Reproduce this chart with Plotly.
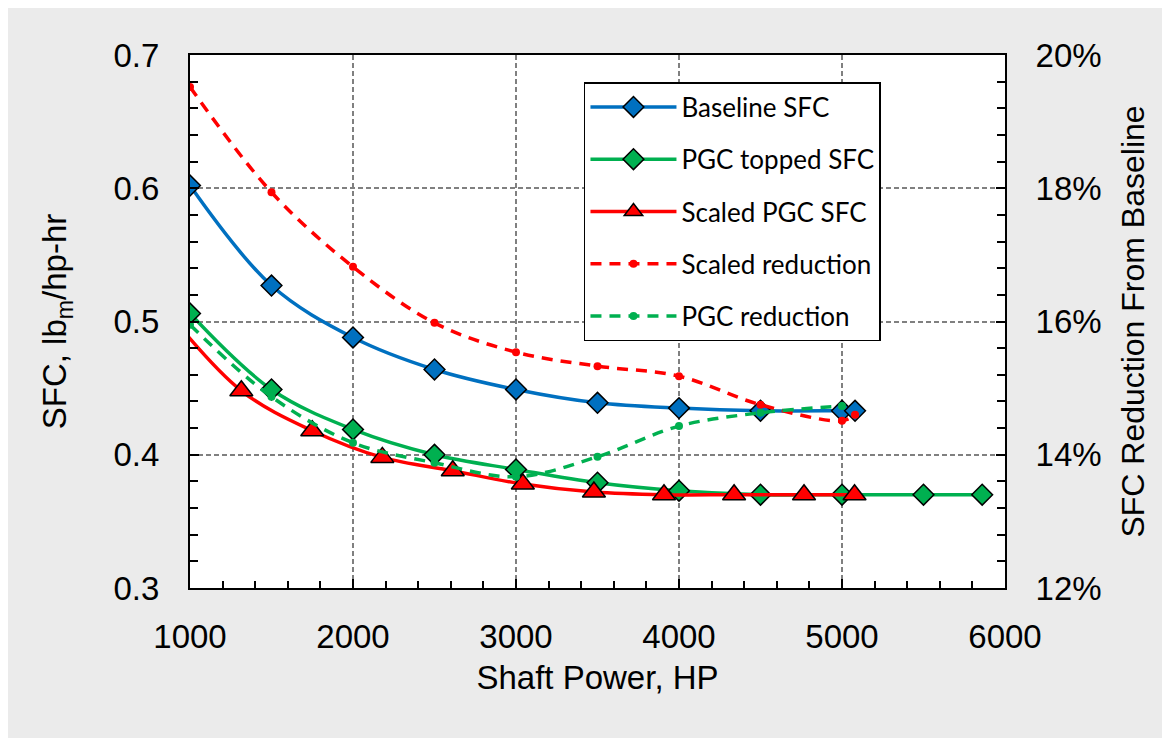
import plotly.graph_objects as go

# ---- data ----
base_power = [1000, 1500, 2000, 2500, 3000, 3500, 4000, 4500, 5000, 5080]
baseline_sfc = [0.602, 0.527, 0.488, 0.464, 0.449, 0.439, 0.435, 0.433, 0.433, 0.433]

pgc_power = [1000, 1500, 2000, 2500, 3000, 3500, 4000, 4500, 5000, 5500, 5860]
pgc_sfc = [0.506, 0.449, 0.419, 0.400, 0.389, 0.379, 0.373, 0.370, 0.370, 0.370, 0.370]

scaled_power = [870, 1315, 1750, 2180, 2612, 3042, 3478, 3908, 4338, 4767, 5077]
scaled_sfc = [0.506, 0.448, 0.418, 0.398, 0.388, 0.378, 0.372, 0.370, 0.370, 0.370, 0.370]

scaled_red_power = [1000, 1500, 2000, 2500, 3000, 3500, 4000, 4500, 5000, 5080]
scaled_reduction = [0.1952, 0.1794, 0.1682, 0.1598, 0.1554, 0.1533, 0.1518, 0.1475, 0.1451, 0.1460]

pgc_red_power = [1000, 1500, 2000, 2500, 3000, 3500, 4000, 4500, 5000]
pgc_reduction = [0.1595, 0.1487, 0.1418, 0.1388, 0.1367, 0.1397, 0.1443, 0.1463, 0.1473]

BLUE = "#0070C0"
GREEN = "#00B050"
RED = "#FF0000"
FONT = "Arial, Liberation Sans, sans-serif"

fig = go.Figure()

fig.add_trace(go.Scatter(
    x=base_power, y=baseline_sfc, name="Baseline SFC", legendgroup="a",
    mode="lines+markers", line=dict(color=BLUE, width=3.5, shape="spline"),
    marker=dict(symbol="diamond", size=16, color=BLUE, line=dict(color="black", width=1.5))))
fig.add_trace(go.Scatter(
    x=pgc_power, y=pgc_sfc, name="PGC topped SFC", legendgroup="b",
    mode="lines+markers", line=dict(color=GREEN, width=3.5, shape="spline"),
    marker=dict(symbol="diamond", size=16, color=GREEN, line=dict(color="black", width=1.5))))
fig.add_trace(go.Scatter(
    x=scaled_power, y=scaled_sfc, name="Scaled PGC SFC", legendgroup="c",
    mode="lines+markers", line=dict(color=RED, width=3.5, shape="spline"),
    marker=dict(symbol="triangle-up", size=20, color=RED, line=dict(color="black", width=1.5))))
fig.add_trace(go.Scatter(
    x=scaled_red_power, y=scaled_reduction, name="Scaled reduction", legendgroup="d",
    yaxis="y2", mode="lines+markers",
    line=dict(color=RED, width=3.5, dash="11px,8px", shape="spline"),
    marker=dict(symbol="circle", size=8, color=RED)))
fig.add_trace(go.Scatter(
    x=pgc_red_power, y=pgc_reduction, name="PGC reduction", legendgroup="e",
    yaxis="y2", mode="lines+markers",
    line=dict(color=GREEN, width=3.5, dash="11px,8px", shape="spline"),
    marker=dict(symbol="circle", size=8, color=GREEN)))

axis_common = dict(
    showline=True, linecolor="black", linewidth=2,
    ticks="inside", tickcolor="black", tickwidth=1.5, ticklen=9,
    tickfont=dict(family=FONT, size=33, color="black"),
    zeroline=False,
)

fig.update_layout(
    width=1162, height=730,
    margin=dict(l=182, r=165, t=47, b=150),
    paper_bgcolor="#EBEBEB", plot_bgcolor="white",
    font=dict(family=FONT, color="black"),
    showlegend=True,
    legend=dict(
        x=0.4834, y=0.9493, xanchor="left", yanchor="top",
        bgcolor="white", bordercolor="black", borderwidth=1.5,
        font=dict(family="Lato, sans-serif", size=26, color="black"),
        itemwidth=86, tracegroupgap=15.5,
    ),
    xaxis=dict(
        **axis_common,
        range=[1000, 6000], dtick=1000, tick0=0, mirror=True,
        showgrid=True, gridcolor="#808080", gridwidth=1.5, griddash="5px,3px",
        minor=dict(dtick=200, ticks="inside", ticklen=7, tickcolor="black", tickwidth=1.5, showgrid=False),
        ticklabelstandoff=18,
        title=dict(text="Shaft Power, HP", font=dict(family=FONT, size=33, color="black"), standoff=12),
    ),
    yaxis=dict(
        **axis_common,
        range=[0.3, 0.7], dtick=0.1, tickformat=".1f",
        showgrid=True, gridcolor="#808080", gridwidth=1.5, griddash="5px,3px",
        minor=dict(dtick=0.02, ticks="inside", ticklen=8, tickcolor="black", tickwidth=1.5, showgrid=False),
        ticklabelstandoff=22,
        title=dict(text="SFC, lb<sub>m</sub>/hp-hr", font=dict(family=FONT, size=33, color="black"), standoff=37),
    ),
    yaxis2=dict(
        **axis_common,
        overlaying="y", side="right",
        range=[0.12, 0.20], dtick=0.02, tickformat=".0%",
        showgrid=False,
        minor=dict(dtick=0.004, ticks="inside", ticklen=8, tickcolor="black", tickwidth=1.5, showgrid=False),
        ticklabelstandoff=22,
        title=dict(text="SFC Reduction From Baseline", font=dict(family=FONT, size=32, color="black"), standoff=21),
    ),
)

fig.write_html("out.html")
